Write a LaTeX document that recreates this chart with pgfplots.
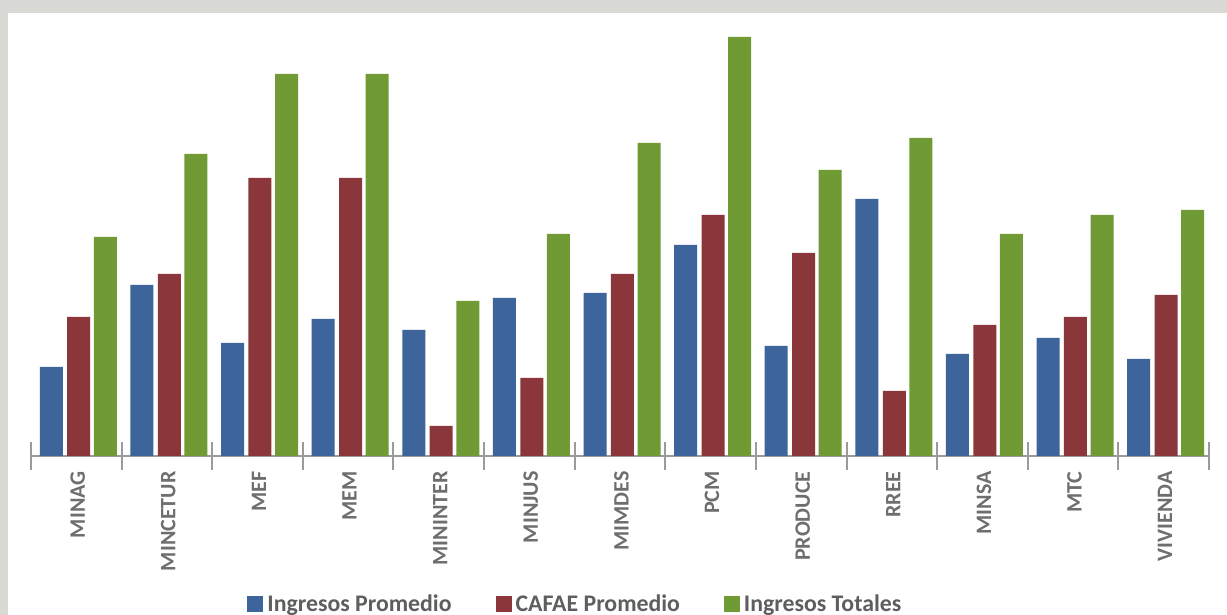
\documentclass[border=0pt]{standalone}
\usepackage{pgfplots}
\pgfplotsset{compat=1.18}
\usepackage{fontspec}
\setmainfont{Carlito}
\definecolor{bgframe}{HTML}{D8D9D4}
\definecolor{cblue}{HTML}{3D659B}
\definecolor{cred}{HTML}{8B363A}
\definecolor{cgreen}{HTML}{709A33}
\definecolor{axgray}{HTML}{9A9A9A}
\definecolor{lblgray}{HTML}{6E6E6E}
\definecolor{leggray}{HTML}{5E5E5E}
\begin{document}
\begin{tikzpicture}
\fill[bgframe] (-15.5pt,-79.5pt) rectangle (598pt,228pt);
\fill[white] (-11.5pt,-79.5pt) rectangle (598pt,221.5pt);
\begin{axis}[
  scale only axis,
  width=589pt, height=221.5pt,
  xmin=-0.5, xmax=12.5, ymin=0, ymax=443,
  axis y line=none,
  axis x line*=bottom,
  axis line style={axgray, line width=1pt},
  xtick={0,...,12},
  xticklabels={MINAG,MINCETUR,MEF,MEM,MININTER,MINJUS,MIMDES,PCM,PRODUCE,RREE,MINSA,MTC,VIVIENDA},
  minor xtick={-0.5,0.5,...,12.5},
  major tick length=0pt,
  minor tick length=14pt,
  xtick align=center,
  minor tick style={axgray, line width=1pt},
  xticklabel style={rotate=90, anchor=east, inner sep=0pt, xshift=-7.5pt, yshift=-0.7pt,
    font=\fontsize{11}{13}\selectfont\bfseries, text=lblgray},
  ytick=\empty,
  clip=false,
  legend columns=3,
  legend style={at={(rel axis cs:0.463,-0.335)}, anchor=center, draw=none, fill=none,
    font=\fontsize{11.9}{14}\selectfont\bfseries, text=leggray,
    /tikz/every even column/.append style={column sep=20pt},
    inner sep=0pt},
  legend cell align=left,
  legend image code/.code={\fill[#1] (0pt,-4pt) rectangle (8pt,4pt);},
]
\addplot[ybar, bar width=11.5pt, bar shift=-12.5pt, fill=cblue, draw=none] coordinates {
(0,89) (1,171) (2,113) (3,137) (4,126) (5,158) (6,163) (7,211) (8,110) (9,257) (10,102) (11,118) (12,97)};
\addplot[ybar, bar width=11.5pt, bar shift=1.2pt, fill=cred, draw=none] coordinates {
(0,139) (1,182) (2,278) (3,278) (4,30) (5,78) (6,182) (7,241) (8,203) (9,65) (10,131) (11,139) (12,161)};
\addplot[ybar, bar width=11.5pt, bar shift=14.5pt, fill=cgreen, draw=none] coordinates {
(0,219) (1,302) (2,382) (3,382) (4,155) (5,222) (6,313) (7,419) (8,286) (9,318) (10,222) (11,241) (12,246)};
\legend{Ingresos Promedio,CAFAE Promedio,Ingresos Totales}
\end{axis}
\pgfresetboundingbox
\path (-15.5pt,-79.5pt) rectangle (598pt,228pt);
\end{tikzpicture}
\end{document}
